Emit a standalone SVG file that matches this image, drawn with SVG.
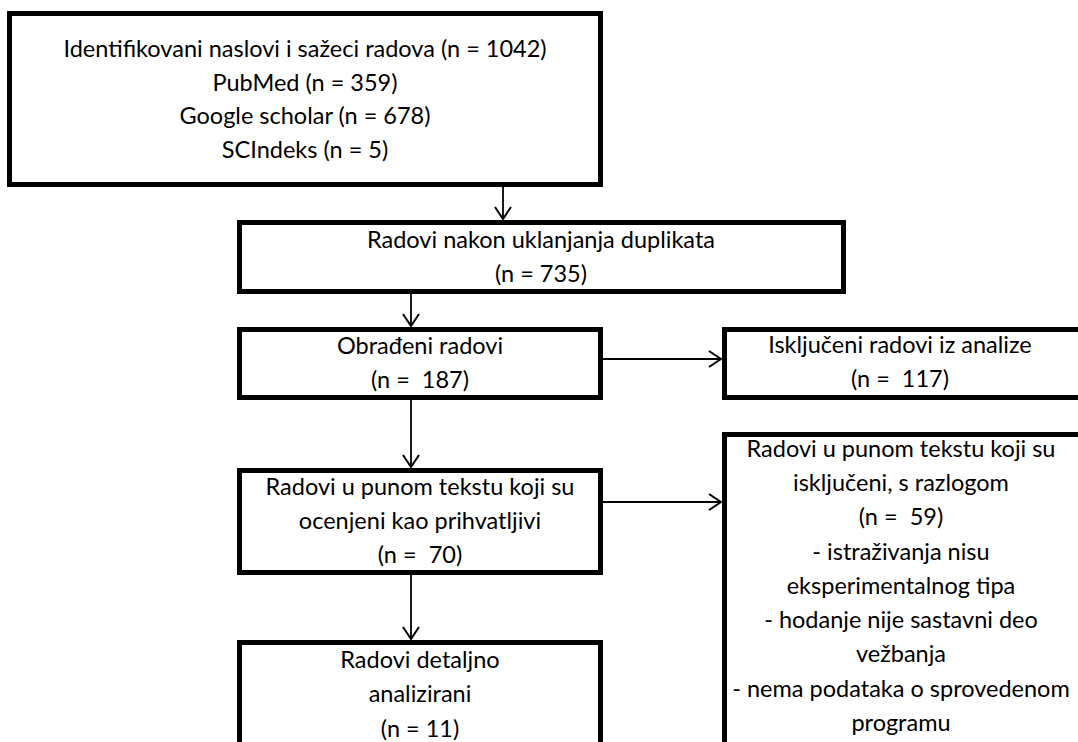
<svg xmlns="http://www.w3.org/2000/svg" width="1078" height="742" viewBox="0 0 1078 742">
<style>
.box{fill:#fff;stroke:#000;stroke-width:5}
.t{font-family:Lato,"Liberation Sans",sans-serif;font-size:23.5px;fill:#000;text-anchor:middle;white-space:pre}
.c{stroke:#000;stroke-width:1.8;fill:none}
</style>
<defs>
<marker id="ah" viewBox="0 0 14 18" refX="13" refY="9" markerWidth="14" markerHeight="18" markerUnits="userSpaceOnUse" orient="auto">
<path d="M1,1 L13,9 L1,17" fill="none" stroke="#000" stroke-width="2"/>
</marker>
</defs>
<rect width="1078" height="742" fill="#fff"/>
<g id="n1">
<rect class="box" x="9.5" y="13.5" width="591" height="171"/>
<text class="t" x="305" y="57">Identifikovani naslovi i sažeci radova (n = 1042)</text>
<text class="t" x="305" y="91">PubMed (n = 359)</text>
<text class="t" x="305" y="124">Google scholar (n = 678)</text>
<text class="t" x="305" y="158">SCIndeks (n = 5)</text>
</g>
<g id="n2">
<rect class="box" x="239.5" y="222.5" width="604" height="69"/>
<text class="t" x="541" y="248">Radovi nakon uklanjanja duplikata</text>
<text class="t" x="541" y="282">(n = 735)</text>
</g>
<g id="n3">
<rect class="box" x="239.5" y="329.5" width="361" height="68"/>
<text class="t" x="420" y="354">Obrađeni radovi</text>
<text class="t" x="420" y="388">(n =  187)</text>
</g>
<g id="n4">
<rect class="box" x="724.5" y="329.5" width="360" height="68"/>
<text class="t" x="900" y="353">Isključeni radovi iz analize</text>
<text class="t" x="900" y="387">(n =  117)</text>
</g>
<g id="n5">
<rect class="box" x="239.5" y="470.5" width="361" height="102"/>
<text class="t" x="420" y="495">Radovi u punom tekstu koji su</text>
<text class="t" x="420" y="529">ocenjeni kao prihvatljivi</text>
<text class="t" x="420" y="563">(n =  70)</text>
</g>
<g id="n6">
<rect class="box" x="724.5" y="434.5" width="360" height="320"/>
<text class="t" x="901" y="457">Radovi u punom tekstu koji su</text>
<text class="t" x="901" y="491">isključeni, s razlogom</text>
<text class="t" x="901" y="525">(n =  59)</text>
<text class="t" x="901" y="560">- istraživanja nisu</text>
<text class="t" x="901" y="594">eksperimentalnog tipa</text>
<text class="t" x="901" y="628">- hodanje nije sastavni deo</text>
<text class="t" x="901" y="662">vežbanja</text>
<text class="t" x="901" y="697">- nema podataka o sprovedenom</text>
<text class="t" x="901" y="731">programu</text>
</g>
<g id="n7">
<rect class="box" x="239.5" y="642.5" width="361" height="120"/>
<text class="t" x="420" y="668">Radovi detaljno</text>
<text class="t" x="420" y="702">analizirani</text>
<text class="t" x="420" y="737">(n = 11)</text>
</g>
<g id="connectors">
<line class="c" x1="503" y1="187" x2="503" y2="219" marker-end="url(#ah)"/>
<line class="c" x1="411" y1="294" x2="411" y2="326" marker-end="url(#ah)"/>
<line class="c" x1="603" y1="359" x2="721" y2="359" marker-end="url(#ah)"/>
<line class="c" x1="411" y1="400" x2="411" y2="467" marker-end="url(#ah)"/>
<line class="c" x1="411" y1="575" x2="411" y2="639" marker-end="url(#ah)"/>
<line class="c" x1="603" y1="502" x2="721" y2="502" marker-end="url(#ah)"/>
</g>
</svg>
